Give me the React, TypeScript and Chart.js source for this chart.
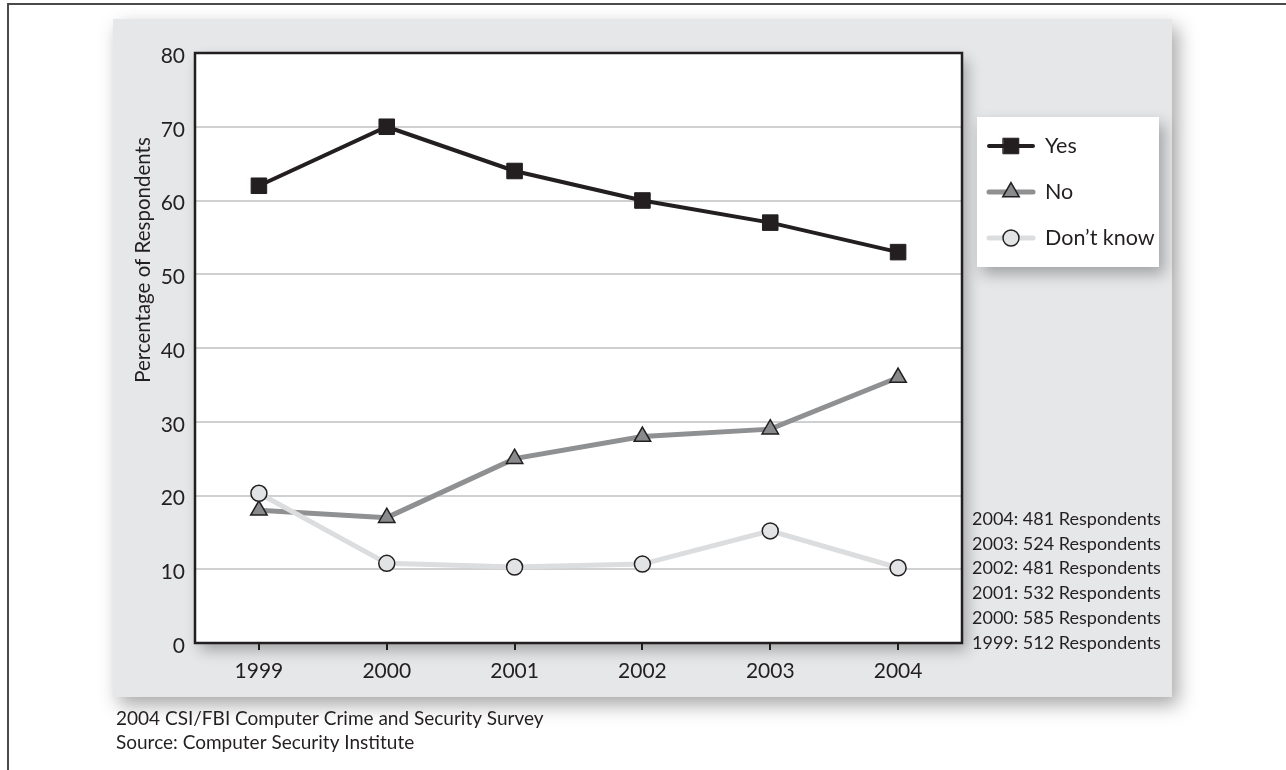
import React, { useEffect, useRef } from "react";
import { Chart, registerables } from "chart.js";

Chart.register(...registerables);

const years = ["1999", "2000", "2001", "2002", "2003", "2004"];
const yesValues = [62, 70, 64, 60, 57, 53];
const noValues = [18, 17, 25, 28, 29, 36];
const dontKnowValues = [20.3, 10.8, 10.3, 10.7, 15.2, 10.2];
const seriesNames = ["Yes", "No", "Don\u2019t know"];
const yTicks = [0, 10, 20, 30, 40, 50, 60, 70, 80];
const yTitle = "Percentage of Respondents";
const respondentNotes = [
  "2004: 481 Respondents",
  "2003: 524 Respondents",
  "2002: 481 Respondents",
  "2001: 532 Respondents",
  "2000: 585 Respondents",
  "1999: 512 Respondents",
];
const footerLines = [
  "2004 CSI/FBI Computer Crime and Security Survey",
  "Source: Computer Security Institute",
];

const FONT = "Lato, 'Open Sans', sans-serif";
const INK = "#231f20";
const W = 1286;
const H = 770;

function drawMarker(ctx: CanvasRenderingContext2D, style: string, r: number, x: number, y: number) {
  ctx.beginPath();
  if (style === "rect") {
    const s = Math.SQRT1_2 * r;
    ctx.rect(x - s, y - s, 2 * s, 2 * s);
  } else if (style === "triangle") {
    const rad = -Math.PI / 2;
    ctx.moveTo(x + Math.cos(rad) * r, y + Math.sin(rad) * r);
    ctx.lineTo(x + Math.cos(rad + (2 * Math.PI) / 3) * r, y + Math.sin(rad + (2 * Math.PI) / 3) * r);
    ctx.lineTo(x + Math.cos(rad + (4 * Math.PI) / 3) * r, y + Math.sin(rad + (4 * Math.PI) / 3) * r);
    ctx.closePath();
  } else {
    ctx.arc(x, y, r, 0, Math.PI * 2);
  }
  ctx.fill();
  ctx.stroke();
}

const decorPlugin = {
  id: "decor",
  beforeDraw(chart: any) {
    const ctx = chart.ctx;
    const a = chart.chartArea;
    ctx.save();
    ctx.fillStyle = "#ffffff";
    ctx.fillRect(0, 0, W, H);
    // outer frame
    ctx.strokeStyle = "#4a4a4a";
    ctx.lineWidth = 2;
    ctx.beginPath();
    ctx.moveTo(8, H);
    ctx.lineTo(8, 4);
    ctx.lineTo(W, 4);
    ctx.stroke();
    // gray panel with shadow
    ctx.shadowColor = "rgba(0,0,0,0.35)";
    ctx.shadowBlur = 18;
    ctx.shadowOffsetX = 6;
    ctx.shadowOffsetY = 8;
    ctx.fillStyle = "#e6e7e8";
    ctx.fillRect(113, 19, 1059, 678);
    // plot area white with shadow
    ctx.shadowColor = "rgba(0,0,0,0.3)";
    ctx.shadowBlur = 14;
    ctx.shadowOffsetX = 5;
    ctx.shadowOffsetY = 7;
    ctx.fillStyle = "#ffffff";
    ctx.fillRect(a.left, a.top, a.right - a.left, a.bottom - a.top);
    // legend box
    ctx.fillRect(977, 117, 182, 150);
    ctx.restore();
  },
  afterDraw(chart: any) {
    const ctx = chart.ctx;
    const a = chart.chartArea;
    ctx.save();
    // plot border
    ctx.strokeStyle = INK;
    ctx.lineWidth = 2.5;
    ctx.strokeRect(a.left, a.top, a.right - a.left, a.bottom - a.top);

    // y title
    ctx.fillStyle = INK;
    ctx.font = `20.5px ${FONT}`;
    ctx.textAlign = "center";
    ctx.textBaseline = "middle";
    ctx.save();
    ctx.translate(143, 260);
    ctx.rotate(-Math.PI / 2);
    ctx.fillText(yTitle, 0, 0);
    ctx.restore();

    // legend
    const ys = [146, 192, 238];
    chart.data.datasets.forEach((ds: any, i: number) => {
      const y = ys[i];
      ctx.strokeStyle = ds.borderColor;
      ctx.lineWidth = ds.borderWidth;
      ctx.lineCap = "round";
      ctx.beginPath();
      ctx.moveTo(989, y);
      ctx.lineTo(1033, y);
      ctx.stroke();
      ctx.fillStyle = ds.pointBackgroundColor;
      ctx.strokeStyle = ds.pointBorderColor;
      ctx.lineWidth = ds.pointBorderWidth;
      drawMarker(ctx, ds.pointStyle, ds.pointRadius, 1011, y);
      ctx.fillStyle = INK;
      ctx.font = `21.5px ${FONT}`;
      ctx.textAlign = "left";
      ctx.textBaseline = "middle";
      ctx.fillText(ds.label, 1045, y);
    });

    // respondent notes
    ctx.font = `18px ${FONT}`;
    ctx.textAlign = "left";
    ctx.textBaseline = "middle";
    ctx.fillStyle = INK;
    respondentNotes.forEach((t, i) => ctx.fillText(t, 972, 519 + i * 24.8));

    // footer
    ctx.font = `19px ${FONT}`;
    footerLines.forEach((t, i) => ctx.fillText(t, 116, 719 + i * 24));
    ctx.restore();
  },
};

export default function App() {
  const ref = useRef<HTMLCanvasElement>(null);
  useEffect(() => {
    if (!ref.current) return;
    const chart = new Chart(ref.current, {
      type: "line",
      data: {
        labels: years,
        datasets: [
          {
            label: seriesNames[0],
            data: yesValues,
            borderColor: INK,
            borderWidth: 4,
            pointStyle: "rect",
            pointRadius: 11,
            pointBackgroundColor: INK,
            pointBorderColor: INK,
            pointBorderWidth: 1,
            order: 0,
          },
          {
            label: seriesNames[1],
            data: noValues,
            borderColor: "#8f9092",
            borderWidth: 5,
            pointStyle: "triangle",
            pointRadius: 9.5,
            pointBackgroundColor: "#898a8c",
            pointBorderColor: INK,
            pointBorderWidth: 1.5,
            order: 2,
          },
          {
            label: seriesNames[2],
            data: dontKnowValues,
            borderColor: "#dcdddf",
            borderWidth: 5,
            pointStyle: "circle",
            pointRadius: 8,
            pointBackgroundColor: "#e2e3e4",
            pointBorderColor: INK,
            pointBorderWidth: 1.5,
            order: 1,
          },
        ] as any,
      },
      options: {
        responsive: false,
        animation: false,
        clip: false as any,
        layout: { padding: { left: 135, top: 53, right: 324, bottom: 87 } },
        plugins: { legend: { display: false }, tooltip: { enabled: false } },
        scales: {
          x: {
            type: "category",
            offset: true,
            grid: {
              drawOnChartArea: false,
              drawTicks: true,
              tickLength: 7,
              color: INK,
              lineWidth: 2,
            },
            border: { display: false },
            ticks: { color: INK, font: { family: FONT, size: 21 }, padding: 9 },
            afterFit: (s: any) => {
              s.height = 40;
            },
          },
          y: {
            min: 0,
            max: 80,
            afterBuildTicks: (s: any) => {
              s.ticks = yTicks.map((v) => ({ value: v }));
            },
            grid: { color: "#cfd0d2", lineWidth: 2, drawTicks: false },
            border: { display: false },
            ticks: { color: INK, font: { family: FONT, size: 21 }, padding: 10, labelOffset: 3 },
            afterFit: (s: any) => {
              s.width = 60;
            },
          },
        },
      },
      plugins: [decorPlugin],
    });
    return () => chart.destroy();
  }, []);
  return (
    <div style={{ position: "fixed", left: 0, top: 0, width: W, height: H }}>
      <canvas ref={ref} width={W} height={H} style={{ display: "block" }} />
    </div>
  );
}
